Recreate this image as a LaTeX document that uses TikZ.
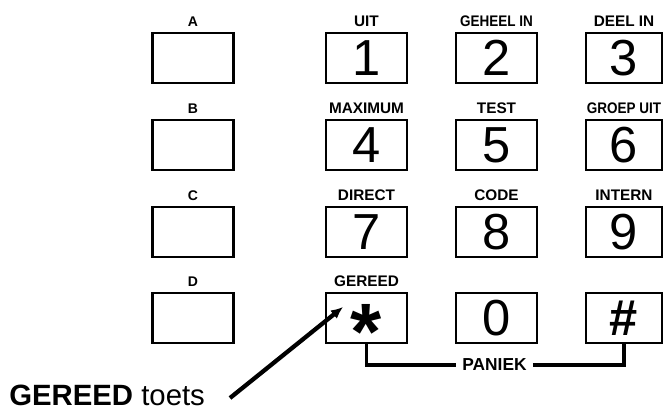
\documentclass[tikz,border=0pt]{standalone}
\usepackage{fontspec}
\setmainfont{Liberation Sans}
\newfontfamily\smal[FakeStretch=0.88]{Liberation Sans}
\usetikzlibrary{arrows.meta}

\begin{document}
\begin{tikzpicture}[x=0.75pt,y=-0.75pt]
        \tikzset{toets/.style={draw,line width=1.8pt,minimum width=60.75pt,minimum height=37.5pt,inner sep=0pt,font=\fontsize{38}{38}\selectfont}}
        \tikzset{opschrift/.style={inner sep=0pt,font=\fontsize{11.5}{11.5}\selectfont\bfseries}}
        \tikzset{smalschrift/.style={inner sep=0pt,font=\fontsize{11.5}{11.5}\smal\bfseries}}
        \tikzset{letter/.style={inner sep=0pt,font=\fontsize{10.5}{10.5}\selectfont\bfseries}}
        \useasboundingbox (0,0) rectangle (663,410);
        % letter keys
        \node[letter] (lA) at (193,21.5) {A};
        \node[toets] (kA) at (193,58) {};
        \node[letter] (lB) at (193,108.5) {B};
        \node[toets] (kB) at (193,145) {};
        \node[letter] (lC) at (193,195.5) {C};
        \node[toets] (kC) at (193,232) {};
        \node[letter] (lD) at (193,281.5) {D};
        \node[toets] (kD) at (193,318) {};
        % digit keys
        \node[opschrift] (l1) at (366.5,21.5) {UIT};
        \node[toets] (k1) at (366.5,58) {1};
        \node[smalschrift] (l2) at (496.5,21.5) {GEHEEL IN};
        \node[toets] (k2) at (496.5,58) {2};
        \node[opschrift] (l3) at (624,21.5) {DEEL IN};
        \node[toets,minimum width=57pt] (k3) at (624,58) {3};
        \node[opschrift] (l4) at (366.5,108.5) {MAXIMUM};
        \node[toets] (k4) at (366.5,145) {4};
        \node[opschrift] (l5) at (496.5,108.5) {TEST};
        \node[toets] (k5) at (496.5,145) {5};
        \node[smalschrift] (l6) at (624,108.5) {GROEP UIT};
        \node[toets,minimum width=57pt] (k6) at (624,145) {6};
        \node[opschrift] (l7) at (366.5,195.5) {DIRECT};
        \node[toets] (k7) at (366.5,232) {7};
        \node[opschrift] (l8) at (496.5,195.5) {CODE};
        \node[toets] (k8) at (496.5,232) {8};
        \node[opschrift] (l9) at (624,195.5) {INTERN};
        \node[toets,minimum width=57pt] (k9) at (624,232) {9};
        \node[opschrift] (lster) at (366.5,281.5) {GEREED};
        \node[toets] (kster) at (366.5,318) {\smash{\raisebox{-31pt}{\fontsize{60}{60}\selectfont\bfseries *}}};
        \node[toets] (k0) at (496.5,318) {0};
        \node[toets,minimum width=57pt] (khek) at (624,318) {\bfseries\#};
        % paniek
        \node[inner xsep=4.5pt,inner ysep=0pt,font=\fontsize{13}{13}\selectfont\bfseries] (paniek) at (494.5,365) {PANIEK};
        \tikzset{verbind/.style={line width=2.6pt}}
        \draw[verbind] (kster.south) |- (paniek.west);
        \draw[verbind] (paniek.east) -| (khek.south);
        % gereed toets
        \node[anchor=base west,inner sep=0pt,font=\fontsize{22}{22}\selectfont] (uitleg) at (9,405) {\textbf{GEREED} toets};
        \coordinate (pijlstart) at (230,398);
        \coordinate (pijlpunt) at (343,307);
        \draw[-{Latex[length=9pt,width=8pt]},line width=3.2pt] (pijlstart) -- (pijlpunt);
\end{tikzpicture}
\end{document}
